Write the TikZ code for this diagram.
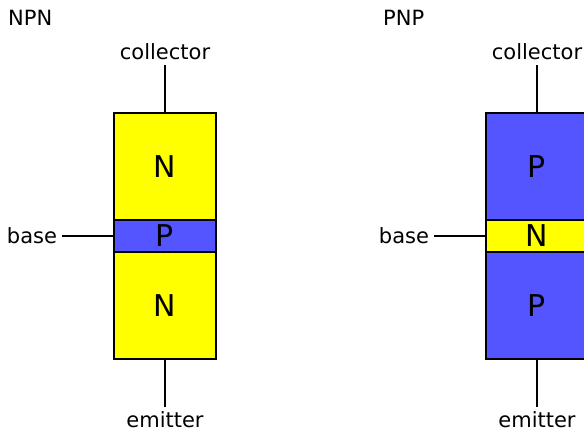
\documentclass[tikz,border=0pt]{standalone}
\usepackage{fontspec}
\setmainfont{DejaVu Sans}
\usetikzlibrary{positioning}

\definecolor{ntype}{RGB}{255,255,0}
\definecolor{ptype}{RGB}{85,85,255}

\begin{document}
\begin{tikzpicture}[
  x=1pt, y=-1pt,
  layer/.style={
    draw,
    line width=1.9pt,
    minimum width=102pt,
    inner sep=0pt,
    outer sep=0pt,
    font=\fontsize{30}{30}\selectfont
  },
  thick layer/.style={layer, minimum height=107pt},
  thin layer/.style={layer, minimum height=32pt},
  n layer/.style={fill=ntype},
  p layer/.style={fill=ptype},
  terminal/.style={
    inner sep=0pt,
    outer sep=5pt,
    font=\fontsize{21}{21}\selectfont
  },
  kind/.style={
    anchor=base west,
    inner sep=0pt,
    font=\fontsize{21}{21}\selectfont
  },
  lead/.style={line width=1.9pt}
]
\useasboundingbox (0,0) rectangle (584,432);

% NPN
\node[kind] (npn) at (8,25) {NPN};
\node[thick layer, n layer] (npnC) at (165,166.5) {N};
\node[thin layer, p layer, below=0pt of npnC] (npnB) {P};
\node[thick layer, n layer, below=0pt of npnB] (npnE) {N};
\node[terminal, above=48pt of npnC] (npnCol) {collector};
\node[terminal, below=48pt of npnE] (npnEmi) {emitter};
\node[terminal, left=52pt of npnB] (npnBas) {base};
\draw[lead] (npnCol) -- (npnC);
\draw[lead] (npnEmi) -- (npnE);
\draw[lead] (npnBas) -- (npnB);

% PNP
\node[kind] (pnp) at (383,25) {PNP};
\node[thick layer, p layer] (pnpC) at (537,166.5) {P};
\node[thin layer, n layer, below=0pt of pnpC] (pnpB) {N};
\node[thick layer, p layer, below=0pt of pnpB] (pnpE) {P};
\node[terminal, above=48pt of pnpC] (pnpCol) {collector};
\node[terminal, below=48pt of pnpE] (pnpEmi) {emitter};
\node[terminal, left=52pt of pnpB] (pnpBas) {base};
\draw[lead] (pnpCol) -- (pnpC);
\draw[lead] (pnpEmi) -- (pnpE);
\draw[lead] (pnpBas) -- (pnpB);

\end{tikzpicture}
\end{document}
